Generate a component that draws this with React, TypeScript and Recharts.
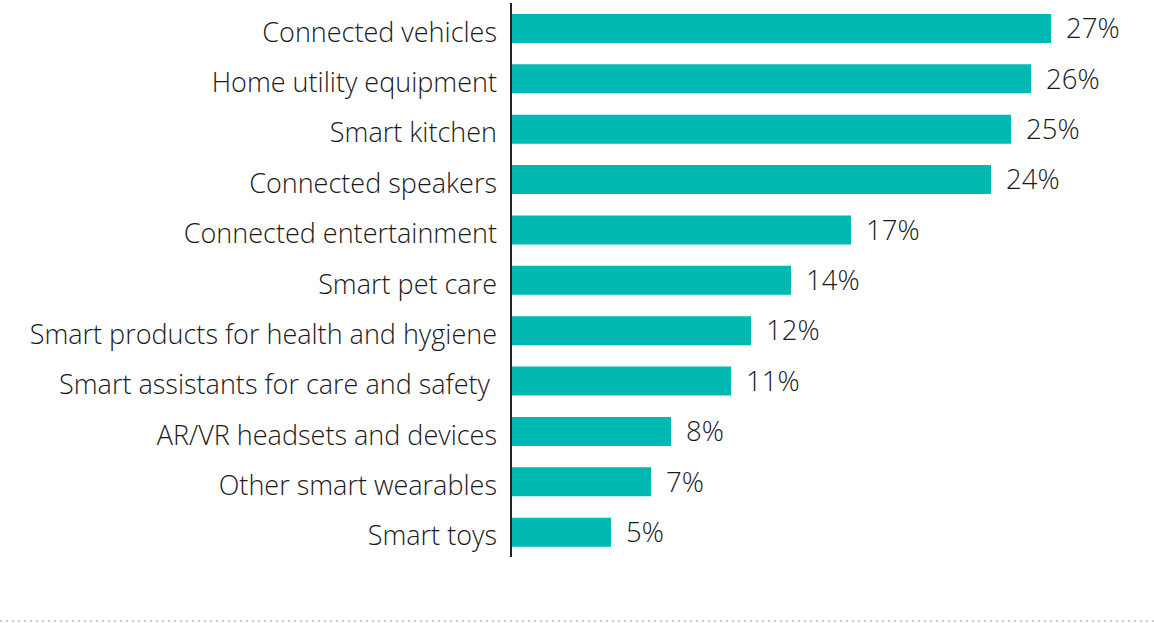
import React from 'react';
import { BarChart, Bar, XAxis, YAxis, LabelList } from 'recharts';

const categories = [
  'Connected vehicles',
  'Home utility equipment',
  'Smart kitchen',
  'Connected speakers',
  'Connected entertainment',
  'Smart pet care',
  'Smart products for health and hygiene',
  'Smart assistants for care and safety ',
  'AR/VR headsets and devices',
  'Other smart wearables',
  'Smart toys',
];

const shares = [27, 26, 25, 24, 17, 14, 12, 11, 8, 7, 5];

const data = categories.map((name, i) => ({ name, value: shares[i] }));

const BAR_COLOR = '#00b9b3';
const TEXT_COLOR = '#1a1a1a';

export default function App() {
  return (
    <div style={{ position: 'absolute', left: 0, top: 0, width: 1154, height: 623, background: '#fff' }}>
      <BarChart
        width={1154}
        height={623}
        data={data}
        layout="vertical"
        margin={{ top: 3, right: 43, left: 0, bottom: 66 }}
        barSize={29}
      >
        <XAxis type="number" domain={[0, 30]} hide />
        <YAxis
          type="category"
          dataKey="name"
          width={511}
          tickLine={false}
          tickSize={0}
          tickMargin={14}
          axisLine={{ stroke: '#222', strokeWidth: 2 }}
          tick={{
            fill: TEXT_COLOR,
            fontSize: 27,
            fontFamily: 'Open Sans',
            fontWeight: 300,
            dy: 4,
            style: { whiteSpace: 'pre' },
          }}
          interval={0}
        />
        <Bar dataKey="value" fill={BAR_COLOR} isAnimationActive={false}>
          <LabelList
            dataKey="value"
            position="right"
            offset={15}
            formatter={(v: any) => `${v}%`}
            style={{ fill: TEXT_COLOR, fontSize: 27.5, fontFamily: 'Open Sans', fontWeight: 300 }}
          />
        </Bar>
      </BarChart>
      <svg width={1154} height={4} style={{ position: 'absolute', left: 0, top: 619 }}>
        <line x1={0} y1={2} x2={1154} y2={2} stroke="#999" strokeWidth={1} strokeDasharray="2 4" />
      </svg>
    </div>
  );
}
